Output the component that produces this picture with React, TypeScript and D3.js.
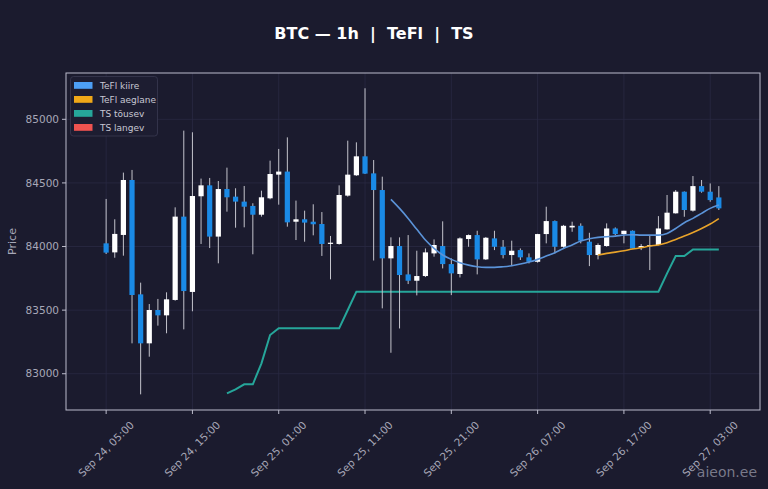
import React from "react";
import * as d3 from "d3";

// ---- data ----
const startTime = Date.UTC(2025, 8, 24, 5); // Sep 24, 05:00, hourly candles
const opens = [84025, 83954, 84091, 84523, 83624, 83239, 83501, 83459, 83580, 84235, 83643, 84395, 84481, 84078, 84452, 84392, 84353, 84319, 84250, 84379, 84565, 84589, 84195, 84214, 84195, 84177, 84025, 84020, 84400, 84560, 84709, 84575, 84444, 83907, 84004, 83781, 83731, 83768, 83946, 84004, 83862, 83784, 84059, 84090, 83899, 84064, 83998, 83933, 83972, 83915, 83880, 84098, 84200, 83998, 84150, 84163, 84038, 83933, 84004, 84142, 84098, 84124, 83990, 84004, 84012, 84135, 84261, 84431, 84282, 84475, 84431, 84386];
const highs = [84374, 84214, 84581, 84602, 83716, 83548, 83588, 83640, 84308, 84911, 84898, 84534, 84539, 84515, 84620, 84458, 84476, 84340, 84439, 84675, 84767, 84858, 84361, 84282, 84332, 84271, 84083, 84481, 84832, 84819, 85244, 84680, 84549, 84072, 84072, 84090, 83967, 83985, 84056, 84198, 83907, 84072, 84095, 84124, 84075, 84124, 84051, 84046, 83985, 83946, 84100, 84313, 84205, 84170, 84195, 84182, 84108, 84025, 84182, 84150, 84124, 84126, 84019, 84090, 84239, 84405, 84444, 84433, 84554, 84523, 84496, 84475];
const lows = [83941, 83912, 83928, 83239, 82838, 83134, 83378, 83318, 83574, 83349, 83491, 84020, 83988, 83868, 84274, 84148, 84151, 83939, 84235, 84371, 84329, 84156, 84051, 84038, 84088, 83926, 83742, 84015, 84392, 84555, 84570, 83890, 83514, 83165, 83356, 83705, 83616, 83760, 83920, 83828, 83618, 83757, 83998, 83781, 83894, 83972, 83907, 83846, 83894, 83867, 83873, 84025, 83946, 83990, 84116, 84025, 83846, 83899, 83998, 84090, 84025, 83985, 83972, 83815, 84010, 84133, 84259, 84234, 84274, 84423, 84352, 84287];
const closes = [83952, 84099, 84523, 83619, 83239, 83501, 83459, 83585, 84235, 83650, 84397, 84481, 84078, 84452, 84387, 84353, 84313, 84250, 84387, 84570, 84589, 84190, 84214, 84188, 84175, 84020, 84030, 84405, 84565, 84709, 84573, 84444, 83907, 84004, 83776, 83731, 83768, 83954, 84012, 83862, 83789, 84064, 84090, 83899, 84069, 83998, 83933, 83967, 83915, 83880, 84098, 84200, 83998, 84163, 84163, 84046, 83933, 84012, 84142, 84098, 84124, 83985, 84004, 84012, 84142, 84266, 84431, 84287, 84475, 84431, 84365, 84300];

// TeFl kiire (fast), starts at candle 33
const fastStart = 33;
const fastLine = [84371, 84300, 84221, 84135, 84051, 83985, 83933, 83899, 83873, 83854, 83841, 83836, 83836, 83841, 83849, 83862, 83878, 83899, 83925, 83951, 83985, 84012, 84043, 84061, 84072, 84077, 84082, 84090, 84093, 84090, 84090, 84090, 84103, 84142, 84187, 84221, 84261, 84300, 84326];
// TeFl aeglane (slow), starts at candle 57
const slowStart = 57;
const slowLine = [83933, 83946, 83956, 83967, 83980, 83990, 84004, 84012, 84030, 84056, 84082, 84111, 84142, 84177, 84219];
// TS tõusev, starts at candle 14
const tsUpStart = 14;
const tsUp = [82846, 82877, 82917, 82917, 83082, 83304, 83357, 83357, 83357, 83357, 83357, 83357, 83357, 83357, 83501, 83645, 83645, 83645, 83645, 83645, 83645, 83645, 83645, 83645, 83645, 83645, 83645, 83645, 83645, 83645, 83645, 83645, 83645, 83645, 83645, 83645, 83645, 83645, 83645, 83645, 83645, 83645, 83645, 83645, 83645, 83645, 83645, 83645, 83645, 83645, 83645, 83789, 83925, 83925, 83977, 83977, 83977, 83977];

const yTicks = [83000, 83500, 84000, 84500, 85000];
const xTickEvery = 10; // hours
const legendItems = [
  { label: "TeFl kiire", color: "#4d9ff5" },
  { label: "TeFl aeglane", color: "#f0a818" },
  { label: "TS tõusev", color: "#26a69a" },
  { label: "TS langev", color: "#ef5350" },
];
const title = "BTC — 1h  |  TeFl  |  TS";

const W = 768, H = 489;
const M = { left: 66, right: 760, top: 73, bottom: 410 };
const HOUR = 3600 * 1000;
const BG = "#1b1b2e";
const FONT = "DejaVu Sans, sans-serif";

export default function App() {
  const n = opens.length;
  const times = d3.range(n).map((i) => new Date(startTime + i * HOUR));
  const x = d3
    .scaleTime()
    .domain([new Date(startTime - 4.65 * HOUR), new Date(startTime + (n - 1 + 4.77) * HOUR)])
    .range([M.left, M.right]);
  const y = d3.scaleLinear().domain([82715, 85364]).range([M.bottom, M.top]);
  const fmt = d3.utcFormat("%b %d, %H:%M");
  const xTicks = d3.range(0, n, xTickEvery).map((i) => times[i]);
  const bw = 5.2;

  const mk = (vals: number[], start: number, curve: d3.CurveFactory) =>
    d3
      .line<number>()
      .x((_, i) => x(times[start + i]))
      .y((v) => y(v))
      .curve(curve)(vals) || "";

  return (
    <svg width={W} height={H} style={{ position: "absolute", left: 0, top: 0, display: "block" }}>
      <rect x={0} y={0} width={W} height={H} fill={BG} />
      <text x={374} y={38.5} textAnchor="middle" fill="#ffffff" fontFamily={FONT} fontSize={16} fontWeight="bold" style={{ whiteSpace: "pre" }}>
        {title}
      </text>
      {/* grid */}
      <g stroke="#2a2a42" strokeWidth={0.8}>
        {yTicks.map((t) => (
          <line key={"gy" + t} x1={M.left} x2={M.right} y1={y(t)} y2={y(t)} />
        ))}
        {xTicks.map((t, i) => (
          <line key={"gx" + i} x1={x(t)} x2={x(t)} y1={M.top} y2={M.bottom} />
        ))}
      </g>
      {/* TS up */}
      <path d={mk(tsUp, tsUpStart, d3.curveLinear)} fill="none" stroke="#26a69a" strokeWidth={2} />
      {/* candles */}
      {times.map((t, i) => {
        const up = closes[i] >= opens[i];
        const cx = x(t);
        const top = y(Math.max(opens[i], closes[i]));
        const bot = y(Math.min(opens[i], closes[i]));
        return (
          <g key={"c" + i}>
            <line x1={cx} x2={cx} y1={y(highs[i])} y2={y(lows[i])} stroke="#c4c4cc" strokeWidth={1} />
            <rect x={cx - bw / 2} y={top} width={bw} height={Math.max(1.2, bot - top)} fill={up ? "#ffffff" : "#1a8ae6"} />
          </g>
        );
      })}
      {/* TeFl lines */}
      <path d={mk(fastLine, fastStart, d3.curveMonotoneX)} fill="none" stroke="#5b93d8" strokeWidth={1.6} />
      <path d={mk(slowLine, slowStart, d3.curveMonotoneX)} fill="none" stroke="#e8a32a" strokeWidth={1.6} />
      {/* frame */}
      <rect x={M.left} y={M.top} width={M.right - M.left} height={M.bottom - M.top} fill="none" stroke="#bcbccc" strokeWidth={1} />
      {/* y axis */}
      {yTicks.map((t) => (
        <g key={"yt" + t}>
          <line x1={M.left - 4} x2={M.left} y1={y(t)} y2={y(t)} stroke="#bcbccc" strokeWidth={1} />
          <text x={M.left - 7} y={y(t)} dy="0.35em" textAnchor="end" fill="#a8a8b8" fontFamily={FONT} fontSize={10.5}>
            {t}
          </text>
        </g>
      ))}
      <text transform={`translate(16,${(M.top + M.bottom) / 2}) rotate(-90)`} textAnchor="middle" fill="#a8a8b8" fontFamily={FONT} fontSize={11}>
        Price
      </text>
      {/* x axis */}
      {xTicks.map((t, i) => {
        const tx = x(t);
        return (
          <g key={"xt" + i}>
            <line x1={tx} x2={tx} y1={M.bottom} y2={M.bottom + 4} stroke="#bcbccc" strokeWidth={1} />
            <text transform={`translate(${tx},${449}) rotate(-45)`} textAnchor="middle" dy="0.35em" fill="#a8a8b8" fontFamily={FONT} fontSize={10.5}>
              {fmt(t)}
            </text>
          </g>
        );
      })}
      {/* legend */}
      <rect x={70.5} y={76.5} width={87} height={59.5} rx={3} fill="#1d1d31" stroke="#3a3a52" strokeWidth={0.8} />
      {legendItems.map((it, i) => (
        <g key={"lg" + i}>
          <rect x={74} y={82 + i * 14} width={18.5} height={6.8} fill={it.color} />
          <text x={100} y={85.4 + i * 14} dy="0.35em" fill="#c8c8d4" fontFamily={FONT} fontSize={9}>
            {it.label}
          </text>
        </g>
      ))}
      {/* watermark */}
      <text x={757} y={477} textAnchor="end" fill="#8c8c9c" fillOpacity={0.85} fontFamily={FONT} fontSize={14}>
        aieon.ee
      </text>
    </svg>
  );
}
